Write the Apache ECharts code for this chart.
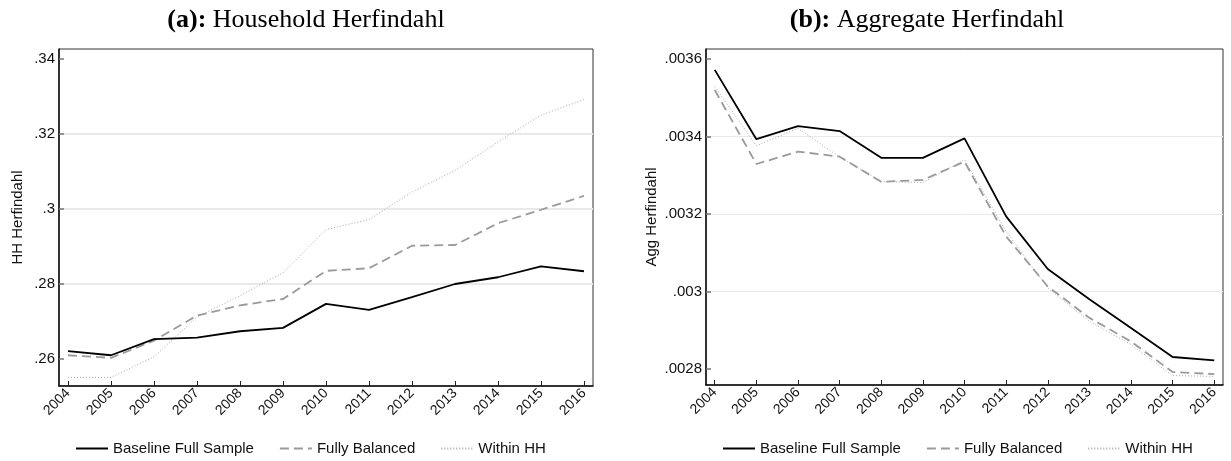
<!DOCTYPE html>
<html>
<head>
<meta charset="utf-8">
<script src="https://cdn.jsdelivr.net/npm/echarts@6/dist/echarts.min.js"></script>
<style>
html,body{margin:0;padding:0;background:#fff;}
#chart{width:1231px;height:461px;}
</style>
</head>
<body>
<div id="chart"></div>
<script>
const years = [2004,2005,2006,2007,2008,2009,2010,2011,2012,2013,2014,2015,2016];
const seriesNames = ['Baseline Full Sample','Fully Balanced','Within HH'];

const hhBaseline = [0.2621,0.2610,0.2653,0.2657,0.2674,0.2683,0.2747,0.2731,0.2765,0.2800,0.2818,0.2847,0.2834];
const hhBalanced = [0.2610,0.2603,0.2649,0.2716,0.2743,0.2760,0.2835,0.2842,0.2902,0.2904,0.2962,0.2998,0.3035];
const hhWithin   = [0.2551,0.2551,0.2606,0.2712,0.2769,0.2830,0.2945,0.2972,0.3045,0.3103,0.3179,0.3250,0.3292];

const aggBaseline = [0.003572,0.003393,0.003427,0.003414,0.003345,0.003345,0.003395,0.003194,0.003058,0.002980,0.002906,0.002831,0.002822];
const aggBalanced = [0.003520,0.003329,0.003361,0.003348,0.003283,0.003288,0.003335,0.003142,0.003013,0.002932,0.002871,0.002792,0.002787];
const aggWithin   = [0.003529,0.003376,0.003421,0.003347,0.003284,0.003281,0.003340,0.003155,0.003009,0.002923,0.002863,0.002783,0.002781];

const hhTicks = [0.26,0.28,0.30,0.32,0.34];
const aggTicks = [0.0028,0.0030,0.0032,0.0034,0.0036];

const SANS = 'Liberation Sans';
const pair = arr => years.map((y,i)=>[y,arr[i]]);
const fmt = v => Number(v.toFixed(6)).toString().replace(/^0\./,'.');

function xAxis(gi){
  return {
    type:'value', gridIndex:gi, min:2003.79, max:2016.21,
    axisLine:{show:true,onZero:false,lineStyle:{color:'#111',width:1.5}},
    axisTick:{show:true,inside:true,length:5,customValues:years,lineStyle:{color:'#222',width:1}},
    axisLabel:{customValues:years,rotate:45,margin:5,fontFamily:SANS,fontSize:14,color:'#111',formatter:v=>String(v)},
    splitLine:{show:false}
  };
}
function yAxis(gi,min,max,ticks,name,gap,gridW){
  return {
    type:'value', gridIndex:gi, min:min, max:max,
    name:name, nameLocation:'middle', nameRotate:90, nameGap:gap,
    nameTextStyle:{fontFamily:SANS,fontSize:15,color:'#111'},
    axisLine:{show:true,onZero:false,lineStyle:{color:'#111',width:1.5}},
    axisTick:{show:true,inside:true,length:5,customValues:ticks,lineStyle:{color:'#777',width:1.5}},
    axisLabel:{customValues:ticks,margin:4,fontFamily:SANS,fontSize:15,color:'#111',formatter:fmt},
    splitLine:{show:true,customValues:ticks,showMinLine:false,showMaxLine:false,lineStyle:{color:'#e9e9e9',width:gridW}}
  };
}
function lineSeries(name,data,gi,style){
  return {name:name,type:'line',xAxisIndex:gi,yAxisIndex:gi,data:pair(data),
    symbol:'none',showSymbol:false,smooth:false,animation:false,
    lineStyle:style,itemStyle:{color:style.color}};
}
const sBase = {color:'#000000',width:1.8,type:'solid'};
const sBal  = {color:'#9a9a9a',width:1.8,type:[9,5]};
const sWith = {color:'#a8a8a8',width:1,type:[1,2]};

function legend(left){
  return {left:left,top:436,orient:'horizontal',itemWidth:32,itemHeight:14,itemGap:25,
    data:seriesNames,textStyle:{fontFamily:SANS,fontSize:15,color:'#111'},
    itemStyle:{opacity:0},
    selectedMode:false};
}
function title(parts,left){
  return {text:'{b|'+parts[0]+'} {r|'+parts[1]+'}',left:left,top:2,textAlign:'center',
    textStyle:{fontWeight:'normal',fontFamily:'Liberation Serif',fontSize:26,
      rich:{b:{fontFamily:'Liberation Serif',fontWeight:'bold',fontSize:26,color:'#000'},
            r:{fontFamily:'Liberation Serif',fontWeight:'normal',fontSize:26,color:'#000'}}}};
}

const chart = echarts.init(document.getElementById('chart'),null,{renderer:'canvas'});
chart.setOption({
  animation:false,
  backgroundColor:'#fff',
  title:[
    title(['(a):','Household Herfindahl'],301),
    title(['(b):','Aggregate Herfindahl'],922)
  ],
  grid:[
    {left:59,top:49,width:534,height:337,show:true,borderColor:'#333',borderWidth:1,backgroundColor:'#fff'},
    {left:706,top:49,width:517,height:336,show:true,borderColor:'#333',borderWidth:1,backgroundColor:'#fff'}
  ],
  xAxis:[xAxis(0),xAxis(1)],
  yAxis:[
    yAxis(0,0.2528,0.342667,hhTicks,'HH Herfindahl',34,2),
    yAxis(1,0.0027587,0.0036258,aggTicks,'Agg Herfindahl',47,1)
  ],
  legend:[legend(70),legend(717)],
  series:[
    lineSeries(seriesNames[2],hhWithin,0,sWith),
    lineSeries(seriesNames[1],hhBalanced,0,sBal),
    lineSeries(seriesNames[0],hhBaseline,0,sBase),
    lineSeries(seriesNames[2],aggWithin,1,sWith),
    lineSeries(seriesNames[1],aggBalanced,1,sBal),
    lineSeries(seriesNames[0],aggBaseline,1,sBase)
  ]
});
</script>
</body>
</html>
